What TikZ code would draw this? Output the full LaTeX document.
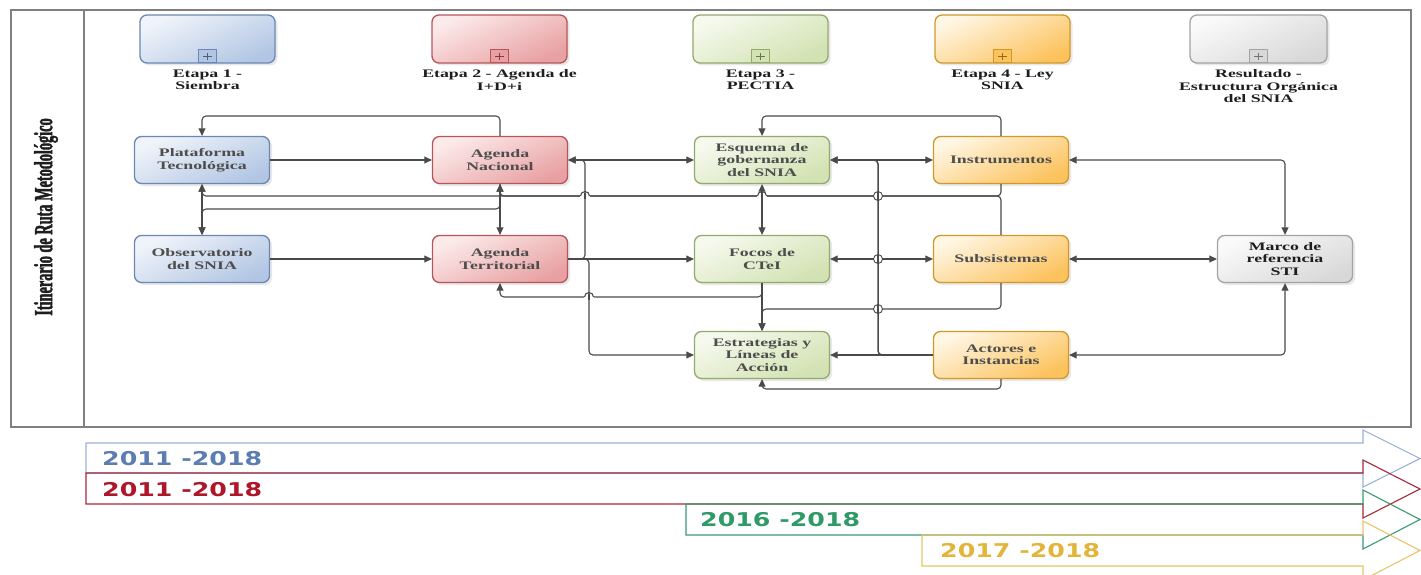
\documentclass[tikz,border=0pt]{standalone}
\usepackage{fontspec}
\usetikzlibrary{arrows.meta,shadows,calc}
\setmainfont{Liberation Serif}
\newfontfamily\nodefont[FakeStretch=1.55]{Liberation Serif}
\newfontfamily\lanefont[FakeStretch=0.55,FakeBold=1.5]{Liberation Serif}
\newfontfamily\yearfont[FakeStretch=1.33]{DejaVu Sans}
\definecolor{bluL}{HTML}{F0F4FA}
\definecolor{bluM}{HTML}{B2C6E3}
\definecolor{bluD}{HTML}{6A88B5}
\definecolor{redL}{HTML}{FCEAEA}
\definecolor{redM}{HTML}{E8A0A2}
\definecolor{redD}{HTML}{B5575A}
\definecolor{grnL}{HTML}{F6F9EE}
\definecolor{grnM}{HTML}{D2E2B2}
\definecolor{grnD}{HTML}{93AA6B}
\definecolor{orgL}{HTML}{FFF6E3}
\definecolor{orgM}{HTML}{FCC25C}
\definecolor{orgD}{HTML}{D1982A}
\definecolor{gryL}{HTML}{FAFAFA}
\definecolor{gryM}{HTML}{D8D8D8}
\definecolor{gryD}{HTML}{A3A3A3}
\definecolor{lnc}{HTML}{4A4A4A}
\definecolor{frm}{HTML}{808080}
\definecolor{txt}{HTML}{4D4D4D}
\definecolor{txtK}{HTML}{1E1E1E}
\definecolor{yBlu}{HTML}{5B7DB2}
\definecolor{yRed}{HTML}{B0162A}
\definecolor{yGrn}{HTML}{2E9A67}
\definecolor{yYel}{HTML}{E2B53A}
\definecolor{bBlu}{HTML}{9BB1D8}
\definecolor{bRed}{HTML}{A8283A}
\definecolor{bGrn}{HTML}{3A9A70}
\definecolor{bYel}{HTML}{E6C46A}
\newcommand{\hjump}[2]{%
  \fill[white] (#1-4.8,#2-1.6) rectangle (#1+4.8,#2+1.6);
  \draw[lnc,line width=1.1pt] (#1,#2-3) -- (#1,#2+3);
  \draw[lnc,line width=1.1pt] (#1+4.5,#2) arc[start angle=0,end angle=180,radius=4.5pt];}
\newcommand{\cjump}[2]{%
  \fill[white] (#1-3.8,#2-1.6) rectangle (#1+3.8,#2+1.6);
  \draw[lnc,line width=1.5pt] (#1,#2-4.5) -- (#1,#2+4.5);
  \draw[lnc,line width=0.9pt] (#1,#2) circle[radius=4.5pt];}
\tikzset{
  box/.style={rounded corners=7pt, minimum width=135pt, minimum height=47pt, line width=1.3pt, inner sep=2pt, align=center, text=txt, font=\nodefont\bfseries\fontsize{11.5}{12.5}\selectfont, drop shadow={opacity=0.18, shadow xshift=2.5pt, shadow yshift=-2.5pt}},
  bluebox/.style={box, draw=bluD, top color=bluL, bottom color=bluM, shading angle=25},
  redbox/.style={box, draw=redD, top color=redL, bottom color=redM, shading angle=25},
  grnbox/.style={box, draw=grnD, top color=grnL, bottom color=grnM, shading angle=25},
  orgbox/.style={box, draw=orgD, top color=orgL, bottom color=orgM, shading angle=25},
  grybox/.style={box, draw=gryD, top color=gryL, bottom color=gryM, shading angle=25},
  plusbox/.style={minimum width=18pt, minimum height=13pt, inner sep=0pt, line width=0.9pt,
    path picture={\draw[line width=1pt, #1] ([xshift=-4.5pt]path picture bounding box.center) -- ([xshift=4.5pt]path picture bounding box.center) ([yshift=-3.5pt]path picture bounding box.center) -- ([yshift=3.5pt]path picture bounding box.center);}},
  stagelbl/.style={anchor=north, align=center, inner sep=0pt, text=txtK, font=\nodefont\bfseries\fontsize{11.5}{12.5}\selectfont},
  conn/.style={draw=lnc, line width=1.1pt, rounded corners=4pt},
  arr/.style={-{Triangle[length=7.5pt,width=7pt]}},
  darr/.style={{Triangle[length=7.5pt,width=7pt]}-{Triangle[length=7.5pt,width=7pt]}},
  frame/.style={draw=frm, line width=1.5pt},
  year/.style={anchor=west, inner sep=0pt, font=\yearfont\bfseries\fontsize{19}{19}\selectfont},
  bar/.style={line width=1.1pt, line join=miter},
}
\begin{document}
\begin{tikzpicture}[x=1pt,y=-1pt]
\useasboundingbox (0,0) rectangle (1421,575);
% pool frame
\draw[frame] (11,10) rectangle (1411,427);
\draw[frame] (84,10) -- (84,427);
\node[rotate=90, inner sep=0pt, text=txtK, font=\lanefont\bfseries\fontsize{26}{26}\selectfont] (lane) at (46,217) {Itinerario de Ruta Metodológico};
% stage boxes
\node[bluebox, minimum height=48pt] (S1) at (207.5,39) {};
\node[redbox, minimum height=48pt] (S2) at (499.5,39) {};
\node[grnbox, minimum height=48pt] (S3) at (760.5,39) {};
\node[orgbox, minimum height=48pt] (S4) at (1002.5,39) {};
\node[grybox, minimum height=48pt, minimum width=137pt] (S5) at (1258.5,39) {};
\node[plusbox=bluD!70!black, draw=bluD, fill=bluM] (M1) at ([yshift=7.5pt]S1.south) {};
\node[plusbox=redD!70!black, draw=redD, fill=redM] (M2) at ([yshift=7.5pt]S2.south) {};
\node[plusbox=grnD!70!black, draw=grnD, fill=grnM] (M3) at ([yshift=7.5pt]S3.south) {};
\node[plusbox=orgD!70!black, draw=orgD, fill=orgM] (M4) at ([yshift=7.5pt]S4.south) {};
\node[plusbox=gryD!70!black, draw=gryD, fill=gryM] (M5) at ([yshift=7.5pt]S5.south) {};
\node[stagelbl] (L1) at ([yshift=-6pt]S1.south) {Etapa 1 -\\Siembra};
\node[stagelbl] (L2) at ([yshift=-6pt]S2.south) {Etapa 2 - Agenda de\\I+D+i};
\node[stagelbl] (L3) at ([yshift=-6pt]S3.south) {Etapa 3 -\\PECTIA};
\node[stagelbl] (L4) at ([yshift=-6pt]S4.south) {Etapa 4 - Ley\\SNIA};
\node[stagelbl] (L5) at ([yshift=-6pt]S5.south) {Resultado -\\Estructura Orgánica\\del SNIA};
% task nodes
\node[bluebox] (PT) at (202,160) {Plataforma\\Tecnológica};
\node[bluebox] (OB) at (202,259) {Observatorio\\del SNIA};
\node[redbox] (AN) at (500,160) {Agenda\\Nacional};
\node[redbox] (AT) at (500,259) {Agenda\\Territorial};
\node[grnbox] (ES) at (762,160) {Esquema de\\gobernanza\\del SNIA};
\node[grnbox] (FO) at (762,259) {Focos de\\CTeI};
\node[grnbox] (EL) at (762,355) {Estrategias y\\Líneas de\\Acción};
\node[orgbox] (IN) at (1001,160) {Instrumentos};
\node[orgbox] (SU) at (1001,259) {Subsistemas};
\node[orgbox] (AC) at (1001,355) {Actores e\\Instancias};
\node[grybox, text=txtK] (MA) at (1285,259) {Marco de\\referencia\\STI};
% helper levels
\coordinate (yA) at (0,116);
\coordinate (yB) at (0,196);
\coordinate (yC) at (0,209);
\coordinate (yD) at (0,297);
\coordinate (yE) at (0,309);
\coordinate (yF) at (0,389);
\coordinate (xB1) at (585,0);
\coordinate (xB2) at (589,0);
\coordinate (xB3) at (878,0);
% connectors
\draw[conn,arr] (AN.north) -- (AN.north |- yA) -| (PT.north);
\draw[conn,arr] (IN.north) -- (IN.north |- yA) -| (ES.north);
\draw[conn,arr] (PT.east) -- (AN.west);
\draw[conn,darr] (PT.south) -- (OB.north);
\draw[conn,arr] (OB.east) -- (AT.west);
\draw[conn,darr] (AN.south) -- (AT.north);
\draw[conn,arr] (IN.south) -- (IN.south |- yB) -- (PT.south |- yB) -- (PT.south);
\draw[conn,arr] (SU.north) -- (SU.north |- yB) -- (AN.south |- yB) -- (AN.south);
\draw[conn,arr] (AN.south) -- (AN.south |- yC) -- (OB.north |- yC) -- (OB.north);
\draw[conn,darr] (ES.south) -- (FO.north);
\draw[conn,arr] (FO.south) -- (EL.north);
\draw[conn,arr] (FO.south) -- (FO.south |- yD) -- (AT.south |- yD) -- (AT.south);
\draw[conn,arr] (SU.south) -- (SU.south |- yE) -- (EL.north |- yE) -- (EL.north);
\draw[conn,darr] (AN.east) -- (ES.west);
\draw[conn,arr] (AT.east) -- (xB1 |- AT.east) -- (xB1 |- AN.east) -- (AN.east);
\draw[conn,arr] (AT.east) -- (FO.west);
\draw[conn,arr] (AT.east) -- (xB2 |- AT.east) -- (xB2 |- EL.west) -- (EL.west);
\draw[conn,darr] (ES.east) -- (IN.west);
\draw[conn,darr] (FO.east) -- (SU.west);
\draw[conn,arr] (AC.west) -- (EL.east);
\draw[conn,arr,line width=1.5pt] (AC.west) -- (xB3 |- AC.west) -- (xB3 |- ES.east) -- (ES.east);
\draw[conn,darr] (IN.east) -| (MA.north);
\draw[conn,darr] (SU.east) -- (MA.west);
\draw[conn,darr] (MA.south) |- (AC.east);
\draw[conn,arr] (AC.south) -- (AC.south |- yF) -| (EL.south);
% line jumps
\hjump{585}{196}
\hjump{762}{196}
\hjump{589}{297}
\cjump{878}{196}
\cjump{878}{259}
\cjump{878}{309}
% timeline bars
\draw[bar, bBlu] (86,443) -- (1363,443) -- (1363,430) -- (1420,458.5) -- (1363,487) -- (1363,473) -- (86,473) -- cycle;
\draw[bar, bRed] (86,473) -- (1363,473) -- (1363,460) -- (1420,489) -- (1363,518) -- (1363,504) -- (86,504) -- cycle;
\draw[bar, bGrn] (686,504) -- (1363,504) -- (1363,490) -- (1420,519.5) -- (1363,549) -- (1363,535) -- (686,535) -- cycle;
\draw[bar, bYel] (922,535) -- (1363,535) -- (1363,521) -- (1420,550.5) -- (1363,580) -- (1363,566) -- (922,566) -- cycle;
\node[year, text=yBlu] (T1) at (102,459) {2011 -2018};
\node[year, text=yRed] (T2) at (102,490) {2011 -2018};
\node[year, text=yGrn] (T3) at (700,520) {2016 -2018};
\node[year, text=yYel] (T4) at (940,551) {2017 -2018};
\end{tikzpicture}
\end{document}
